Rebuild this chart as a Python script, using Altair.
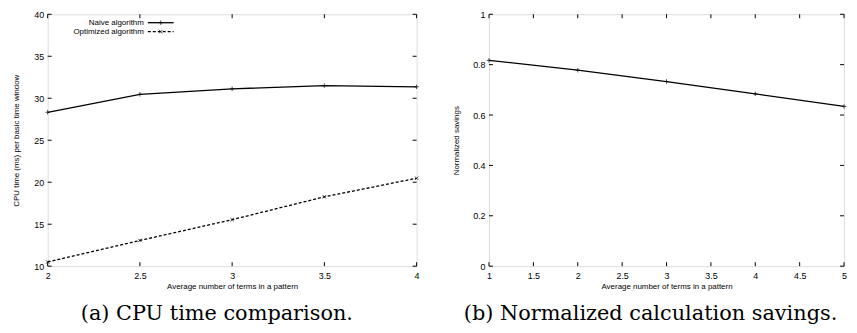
import altair as alt
import pandas as pd

# ---- data ----
terms_a = [2, 2.5, 3, 3.5, 4]
naive = [28.33, 30.47, 31.12, 31.5, 31.36]
optimized = [10.5, 13.06, 15.54, 18.26, 20.47]

terms_b = [1, 2, 3, 4, 5]
savings = [0.817, 0.778, 0.733, 0.684, 0.634]

xticks_a = [2, 2.5, 3, 3.5, 4]
yticks_a = [10, 15, 20, 25, 30, 35, 40]
xticks_b = [1, 1.5, 2, 2.5, 3, 3.5, 4, 4.5, 5]
yticks_b = [0, 0.2, 0.4, 0.6, 0.8, 1]

series_names = ["Naive algorithm", "Optimized algorithm"]
captions = ["(a) CPU time comparison.", "(b) Normalized calculation savings."]
xtitle = "Average number of terms in a pattern"
ytitle_a = "CPU time (ms) per basic time window"
ytitle_b = "Normalized savings"

SANS = "Liberation Sans"
SERIF = "DejaVu Serif"
TICK = 4

W_A, H = 372, 254
W_B = 358

df_a = pd.DataFrame({
    "x": terms_a * 2,
    "y": naive + optimized,
    "series": [series_names[0]] * len(terms_a) + [series_names[1]] * len(terms_a),
})
df_b = pd.DataFrame({"x": terms_b, "y": savings})

X_SHAPE = "M-1,-1L1,1M1,-1L-1,1"
PLUS_SHAPE = "M-1,0L1,0M0,-1L0,1"


def axis_x(values):
    return alt.Axis(values=values, ticks=False, domain=False, grid=False, format="~g",
                    labelFont=SANS, labelFontSize=9, labelColor="black",
                    labelPadding=5, title=xtitle, titleFont=SANS,
                    titleFontSize=8, titleFontWeight="normal",
                    titleColor="black", titlePadding=3, labelFlush=False)


def axis_y(values, title, tpad):
    return alt.Axis(values=values, ticks=False, domain=False, grid=False, format="~g",
                    labelFont=SANS, labelFontSize=9, labelColor="black",
                    labelPadding=4, title=title, titleFont=SANS,
                    titleFontSize=8, titleFontWeight="normal",
                    titleColor="black", titlePadding=tpad, labelFlush=False)


def inward_ticks(xvals, yvals, xdom, ydom, w, h, ay):
    xs = alt.Scale(domain=xdom, nice=False, zero=False)
    ys = alt.Scale(domain=ydom, nice=False, zero=False)
    ax = axis_x(xvals)
    dx = pd.DataFrame({"t": xvals})
    dy = pd.DataFrame({"t": yvals})
    bot = alt.Chart(dx).mark_rule(color="black", strokeWidth=1).encode(
        x=alt.X("t:Q", scale=xs, axis=ax), y=alt.value(h), y2=alt.value(h - TICK))
    top = alt.Chart(dx).mark_rule(color="black", strokeWidth=1).encode(
        x=alt.X("t:Q", scale=xs, axis=ax), y=alt.value(0), y2=alt.value(TICK))
    left = alt.Chart(dy).mark_rule(color="black", strokeWidth=1).encode(
        y=alt.Y("t:Q", scale=ys, axis=ay), x=alt.value(0), x2=alt.value(TICK))
    right = alt.Chart(dy).mark_rule(color="black", strokeWidth=1).encode(
        y=alt.Y("t:Q", scale=ys, axis=ay), x=alt.value(w - TICK), x2=alt.value(w))
    return [bot, top, left, right]


# ---- panel (a) ----
xs_a = alt.Scale(domain=[2, 4], nice=False, zero=False)
ys_a = alt.Scale(domain=[10, 40], nice=False, zero=False)
ay_a = axis_y(yticks_a, ytitle_a, 13)

base_a = alt.Chart(df_a).encode(
    x=alt.X("x:Q", scale=xs_a, axis=axis_x(xticks_a)),
    y=alt.Y("y:Q", scale=ys_a, axis=ay_a),
)
line_naive = base_a.transform_filter(alt.datum.series == series_names[0]).mark_line(
    color="black", strokeWidth=1.3)
line_opt = base_a.transform_filter(alt.datum.series == series_names[1]).mark_line(
    color="black", strokeWidth=1.3, strokeDash=[3, 2])
pts_naive = base_a.transform_filter(alt.datum.series == series_names[0]).mark_point(
    shape=PLUS_SHAPE, size=20, color="black", filled=False, strokeWidth=1)
pts_opt = base_a.transform_filter(alt.datum.series == series_names[1]).mark_point(
    shape=X_SHAPE, size=12, color="black", filled=False, strokeWidth=1)

leg_df = pd.DataFrame({"name": series_names})
LEG_TX, LEG_X1, LEG_X2, LEG_Y = 97, 101, 127, [8.5, 17.5]


def leg_sel(i):
    return alt.Chart(leg_df).transform_filter(alt.datum.name == series_names[i])


leg_text0 = leg_sel(0).mark_text(
    align="right", baseline="middle", font=SANS, fontSize=8, color="black").encode(
    text="name:N", x=alt.value(LEG_TX), y=alt.value(LEG_Y[0]))
leg_text1 = leg_sel(1).mark_text(
    align="right", baseline="middle", font=SANS, fontSize=8, color="black").encode(
    text="name:N", x=alt.value(LEG_TX), y=alt.value(LEG_Y[1]))
leg_line0 = leg_sel(0).mark_rule(color="black", strokeWidth=1.3).encode(
    x=alt.value(LEG_X1), x2=alt.value(LEG_X2), y=alt.value(LEG_Y[0]))
leg_line1 = leg_sel(1).mark_rule(color="black", strokeWidth=1.3, strokeDash=[3, 2]).encode(
    x=alt.value(LEG_X1), x2=alt.value(LEG_X2), y=alt.value(LEG_Y[1]))
leg_pt0 = leg_sel(0).mark_point(
    shape=PLUS_SHAPE, size=20, color="black", filled=False, strokeWidth=1).encode(
    x=alt.value((LEG_X1 + LEG_X2) / 2), y=alt.value(LEG_Y[0]))
leg_pt1 = leg_sel(1).mark_point(
    shape=X_SHAPE, size=12, color="black", filled=False, strokeWidth=1).encode(
    x=alt.value((LEG_X1 + LEG_X2) / 2), y=alt.value(LEG_Y[1]))

panel_a = alt.layer(
    line_naive, line_opt, pts_naive, pts_opt,
    *inward_ticks(xticks_a, yticks_a, [2, 4], [10, 40], W_A, H, ay_a),
    leg_text0, leg_text1, leg_line0, leg_line1, leg_pt0, leg_pt1,
).properties(
    width=W_A, height=H,
    title=alt.TitleParams(captions[0], orient="bottom", font=SERIF, fontSize=21,
                          fontWeight="normal", color="black", offset=12,
                          anchor="middle", frame="bounds"),
)

# ---- panel (b) ----
xs_b = alt.Scale(domain=[1, 5], nice=False, zero=False)
ys_b = alt.Scale(domain=[0, 1], nice=False, zero=False)
ay_b = axis_y(yticks_b, ytitle_b, 12)
base_b = alt.Chart(df_b).encode(
    x=alt.X("x:Q", scale=xs_b, axis=axis_x(xticks_b)),
    y=alt.Y("y:Q", scale=ys_b, axis=ay_b),
)
line_b = base_b.mark_line(color="black", strokeWidth=1.3)
pts_b = base_b.mark_point(shape=PLUS_SHAPE, size=20, color="black", filled=False, strokeWidth=1)

panel_b = alt.layer(
    line_b, pts_b,
    *inward_ticks(xticks_b, yticks_b, [1, 5], [0, 1], W_B, H, ay_b),
).properties(
    width=W_B, height=H,
    title=alt.TitleParams(captions[1], orient="bottom", font=SERIF, fontSize=21,
                          fontWeight="normal", color="black", offset=12,
                          anchor="middle", frame="bounds"),
)

chart = alt.hconcat(panel_a, panel_b, spacing=30).properties(
    padding={"left": 4, "top": 0, "right": 0, "bottom": 0}
).configure_view(stroke="black", strokeWidth=1).configure(background="white")

chart.save("out.html", embed_options={"renderer": "svg", "actions": False})
